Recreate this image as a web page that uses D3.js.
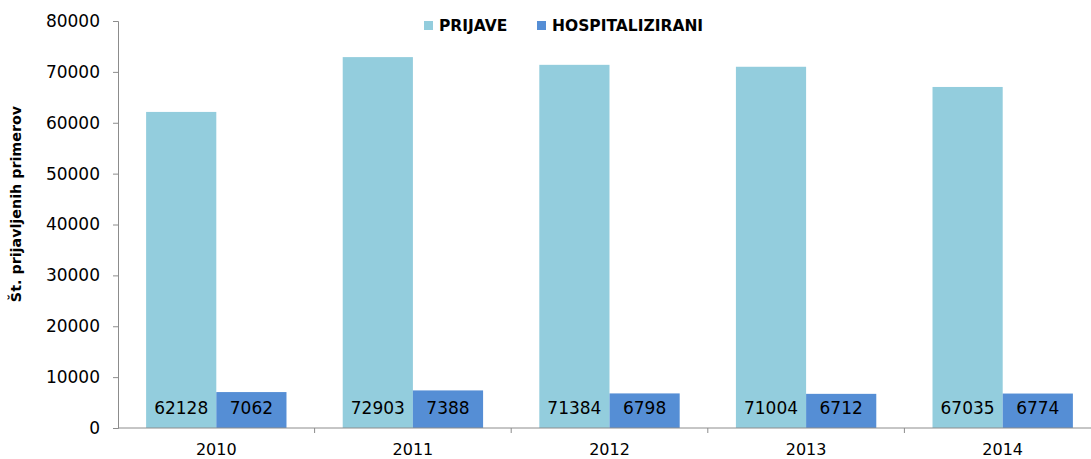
<!DOCTYPE html>
<html>
<head>
<meta charset="utf-8">
<script src="https://cdn.jsdelivr.net/npm/d3@7"></script>
<style>
  body { margin: 0; background: #fff; }
  svg { display: block; }
  svg text { font-family: "DejaVu Sans", sans-serif; }
</style>
</head>
<body>
<svg id="chart" width="1091" height="459"></svg>
<script>
"use strict";

const years = ["2010", "2011", "2012", "2013", "2014"];
const seriesNames = ["PRIJAVE", "HOSPITALIZIRANI"];
const prijave = [62128, 72903, 71384, 71004, 67035];
const hospitalizirani = [7062, 7388, 6798, 6712, 6774];
const yTicks = [0, 10000, 20000, 30000, 40000, 50000, 60000, 70000, 80000];
const colors = ["#93cddd", "#558ed5"];

(function () {
    const svg = d3.select("#chart");
    const margin = { top: 21, right: -10, bottom: 31, left: 118 };
    const width = 1091 - margin.left - margin.right;
    const height = 459 - margin.top - margin.bottom;

    const g = svg.append("g")
        .attr("transform", `translate(${margin.left},${margin.top})`);

    const rows = years.map((y, i) => ({
        year: y,
        values: [prijave[i], hospitalizirani[i]]
    }));

    const x0 = d3.scaleBand().domain(years).range([0, width]).padding(0);
    const gap = x0.bandwidth() * 0.143;
    const x1 = d3.scaleBand().domain(seriesNames).range([gap, x0.bandwidth() - gap]);
    const y = d3.scaleLinear().domain([0, 80000]).range([height, 0]);

    // bars
    const groups = g.selectAll(".grp")
        .data(rows)
        .enter()
        .append("g")
        .attr("class", "grp")
        .attr("transform", d => `translate(${x0(d.year)},0)`);

    groups.selectAll("rect")
        .data(d => d.values.map((v, k) => ({ key: seriesNames[k], v: v, k: k })))
        .enter()
        .append("rect")
        .attr("x", d => x1(d.key))
        .attr("width", x1.bandwidth())
        .attr("y", d => y(d.v))
        .attr("height", d => y(0) - y(d.v))
        .attr("fill", d => colors[d.k]);

    groups.selectAll("text")
        .data(d => d.values.map((v, k) => ({ key: seriesNames[k], v: v })))
        .enter()
        .append("text")
        .attr("x", d => x1(d.key) + x1.bandwidth() / 2)
        .attr("y", y(0) - 20)
        .attr("dy", "0.35em")
        .attr("text-anchor", "middle")
        .style("font-size", "17px")
        .style("fill", "#000")
        .text(d => d.v);

    // y axis
    const yAxis = g.append("g")
        .call(d3.axisLeft(y).tickValues(yTicks).tickSize(5).tickPadding(13).tickFormat(d3.format("d")));
    yAxis.selectAll("path, line").attr("stroke", "#8c8c8c");
    yAxis.selectAll("text")
        .style("font-family", "'DejaVu Sans', sans-serif")
        .style("font-size", "17px")
        .style("fill", "#000");

    // x axis
    const xAxis = g.append("g").attr("transform", `translate(0,${height})`);
    xAxis.append("line")
        .attr("x1", 0).attr("x2", width)
        .attr("stroke", "#8c8c8c");
    xAxis.selectAll(".tk")
        .data(years.slice(1))
        .enter()
        .append("line")
        .attr("x1", d => x0(d)).attr("x2", d => x0(d))
        .attr("y1", 0).attr("y2", 5)
        .attr("stroke", "#8c8c8c");
    xAxis.selectAll(".lbl")
        .data(years)
        .enter()
        .append("text")
        .attr("x", d => x0(d) + x0.bandwidth() / 2)
        .attr("y", 27)
        .attr("text-anchor", "middle")
        .style("font-size", "16px")
        .style("fill", "#000")
        .text(d => d);

    // y title
    svg.append("text")
        .attr("transform", "translate(21,204) rotate(-90)")
        .attr("text-anchor", "middle")
        .style("font-size", "14.3px")
        .style("font-weight", "bold")
        .text("Št. prijavljenih primerov");

    // legend
    const legend = svg.append("g");
    const legendX = [424, 537];
    seriesNames.forEach((name, i) => {
        legend.append("rect")
            .attr("x", legendX[i]).attr("y", 21)
            .attr("width", 9).attr("height", 9)
            .attr("fill", colors[i]);
        legend.append("text")
            .attr("x", legendX[i] + 15).attr("y", 26)
            .attr("dy", "0.35em")
            .style("font-size", "15.5px")
            .style("font-weight", "bold")
            .text(name);
    });
})();
</script>
</body>
</html>
